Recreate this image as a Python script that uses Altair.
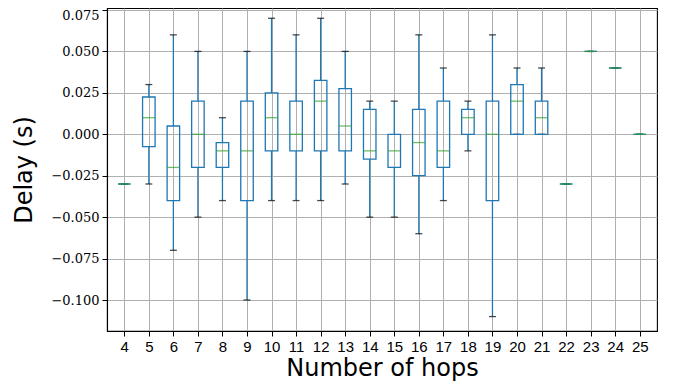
import altair as alt
import pandas as pd

hops = list(range(4, 26))
low = [-0.03, -0.03, -0.07, -0.05, -0.04, -0.10, -0.04, -0.04, -0.04, -0.03, -0.05,
       -0.05, -0.06, -0.04, -0.01, -0.11, 0.0, 0.0, -0.03, 0.05, 0.04, 0.0]
q1 = [-0.03, -0.0075, -0.04, -0.02, -0.02, -0.04, -0.01, -0.01, -0.01, -0.01, -0.015,
      -0.02, -0.025, -0.02, 0.0, -0.04, 0.0, 0.0, -0.03, 0.05, 0.04, 0.0]
med = [-0.03, 0.01, -0.02, 0.0, -0.01, -0.01, 0.01, 0.0, 0.02, 0.005, -0.01,
       -0.01, -0.005, -0.01, 0.01, 0.0, 0.02, 0.01, -0.03, 0.05, 0.04, 0.0]
q3 = [-0.03, 0.0225, 0.005, 0.02, -0.005, 0.02, 0.025, 0.02, 0.0325, 0.0275, 0.015,
      0.0, 0.015, 0.02, 0.015, 0.02, 0.03, 0.02, -0.03, 0.05, 0.04, 0.0]
high = [-0.03, 0.03, 0.06, 0.05, 0.01, 0.05, 0.07, 0.06, 0.07, 0.05, 0.02,
        0.02, 0.06, 0.04, 0.02, 0.06, 0.04, 0.04, -0.03, 0.05, 0.04, 0.0]
y_ticks = [-0.1, -0.075, -0.05, -0.025, 0.0, 0.025, 0.05, 0.075]

df = pd.DataFrame({"hop": hops, "low": low, "q1": q1, "med": med, "q3": q3, "high": high})

BLUE = "#1f77b4"
GREEN = "#2ca02c"

x = alt.X("hop:Q", scale=alt.Scale(domain=[3.5, 25.5], nice=False, zero=False),
          axis=alt.Axis(values=hops, title="Number of hops", format="d"))
yscale = alt.Scale(domain=[-0.1187, 0.0762], nice=False, zero=False)
yaxis = alt.Axis(values=y_ticks, format=".3f", title="Delay (s)",
                 labelOffset={"condition": {"test": "datum.value > 0.07", "value": 6}, "value": 0})

base = alt.Chart(df)

wl = base.mark_rule(color=BLUE, strokeWidth=1.3).encode(
    x=x, y=alt.Y("low:Q", scale=yscale, axis=yaxis), y2="q1:Q")
wh = base.mark_rule(color=BLUE, strokeWidth=1.3).encode(
    x=x, y=alt.Y("q3:Q", scale=yscale, axis=yaxis), y2="high:Q")
cap_l = base.mark_tick(orient="horizontal", color="black", size=7, thickness=1.3).encode(
    x=x, y=alt.Y("low:Q", scale=yscale, axis=yaxis))
cap_h = base.mark_tick(orient="horizontal", color="black", size=7, thickness=1.3).encode(
    x=x, y=alt.Y("high:Q", scale=yscale, axis=yaxis))
box = base.mark_bar(size=12.5, fillOpacity=0, stroke=BLUE, strokeWidth=1.3).encode(
    x=x, y=alt.Y("q1:Q", scale=yscale, axis=yaxis), y2="q3:Q")
median = base.mark_tick(orient="horizontal", color=GREEN, size=12.5, thickness=1.3).encode(
    x=x, y=alt.Y("med:Q", scale=yscale, axis=yaxis))

chart = alt.layer(wl, wh, cap_l, cap_h, box, median).properties(
    width=550, height=323,
    autosize=alt.AutoSizeParams(type="none"),
    padding={"left": 99, "top": 0, "right": 14, "bottom": 53},
).configure_view(
    stroke="black", strokeWidth=1.1
).configure_axis(
    grid=True, gridColor="#b0b0b0", gridWidth=1, gridOpacity=1,
    domainColor="black", domainWidth=1.1, tickColor="black", tickSize=5, tickWidth=1,
    titleFont="DejaVu Sans", titleFontWeight="normal", titleColor="black",
    labelColor="black",
).configure_axisX(
    labelFont="Liberation Sans", labelFontSize=15, labelPadding=3,
    titleFontSize=24, titlePadding=2,
).configure_axisY(
    labelFont="DejaVu Serif", labelFontSize=13, labelPadding=3,
    titleFontSize=24, titlePadding=14,
)

chart.save("out.html", embed_options={"renderer": "svg", "actions": False})
